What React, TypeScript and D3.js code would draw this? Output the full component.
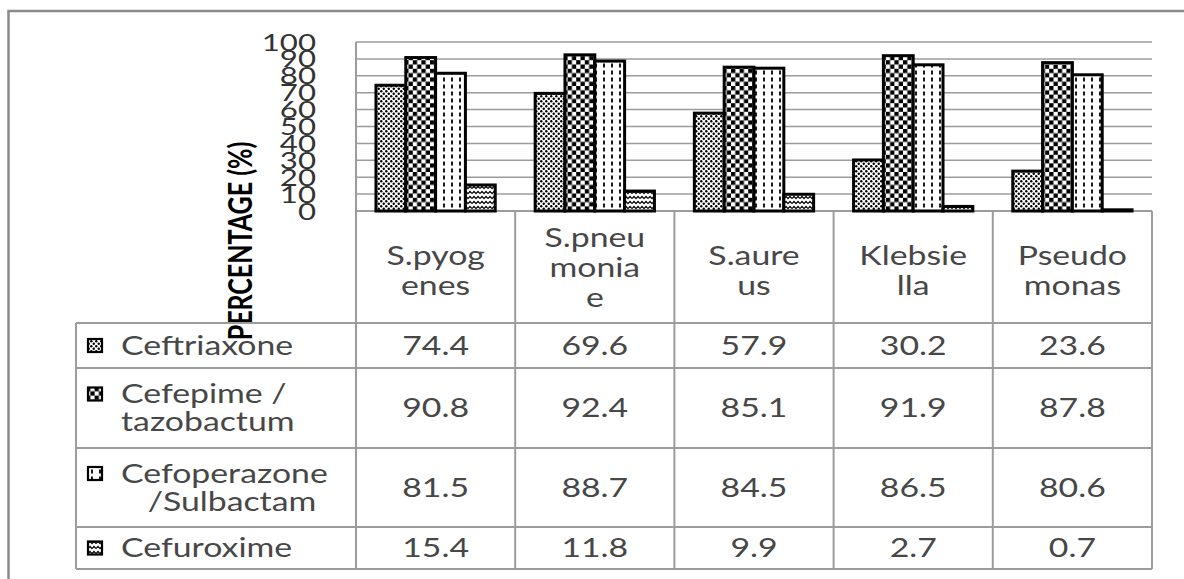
import React from "react";
import * as d3 from "d3";

// Organisms (categories) and how their names wrap in the table header
const categories = ["S.pyogenes", "S.pneumoniae", "S.aureus", "Klebsiella", "Pseudomonas"];
const categoryLines = [["S.pyog", "enes"], ["S.pneu", "monia", "e"], ["S.aure", "us"], ["Klebsie", "lla"], ["Pseudo", "monas"]];

// Antibiotics (series) and their wrapped legend labels
const seriesNames = ["Ceftriaxone", "Cefepime / tazobactum", "Cefoperazone /Sulbactam", "Cefuroxime"];
const seriesLines = [["Ceftriaxone"], ["Cefepime /", "tazobactum"], ["Cefoperazone", "/Sulbactam"], ["Cefuroxime"]];

// Sensitivity percentages per organism
const ceftriaxone = [74.4, 69.6, 57.9, 30.2, 23.6];
const cefepimeTazobactam = [90.8, 92.4, 85.1, 91.9, 87.8];
const cefoperazoneSulbactam = [81.5, 88.7, 84.5, 86.5, 80.6];
const cefuroxime = [15.4, 11.8, 9.9, 2.7, 0.7];
const seriesValues = [ceftriaxone, cefepimeTazobactam, cefoperazoneSulbactam, cefuroxime];

const yTicks = [0, 10, 20, 30, 40, 50, 60, 70, 80, 90, 100];
const yTitle = "PERCENTAGE (%)";

const W = 1184;
const H = 579;
const FONT = "Lato, 'Open Sans', sans-serif";
const SX = 1.3; // horizontal text stretch
const GRID = "#9c9c9c";
const TEXT = "#474747";

const plotLeft = 356;
const plotRight = 1152;
const plotTop = 42;
const plotBottom = 211;
const tableLeft = 76;
const rowEdges = [211, 323, 368, 448, 527, 569];
const labelStart = 121;

const patternIds = ["pDots", "pCheck", "pDash", "pWave"];

function SText(props: {
  x: number; y: number; text: string; size: number; anchor?: string; weight?: number; fill?: string;
}) {
  const { x, y, text, size, anchor = "middle", weight = 400, fill = TEXT } = props;
  return (
    <text
      transform={`translate(${x},${y}) scale(${SX},1)`}
      textAnchor={anchor as any}
      fontFamily={FONT}
      fontSize={size}
      fontWeight={weight}
      fill={fill}
    >
      {text}
    </text>
  );
}

export default function App() {
  const x0 = d3.scaleBand<string>().domain(categories).range([plotLeft, plotRight]).paddingInner(0).paddingOuter(0);
  const x1 = d3
    .scaleBand<string>()
    .domain(seriesNames)
    .range([0, x0.bandwidth()])
    .paddingInner(0)
    .paddingOuter(0.67);
  const y = d3.scaleLinear().domain([0, 100]).range([plotBottom, plotTop]);

  const tableFont = 26;
  const colCenter = (c: string) => (x0(c) as number) + x0.bandwidth() / 2;

  return (
    <svg
      width={W}
      height={H}
      viewBox={`0 0 ${W} ${H}`}
      style={{ position: "absolute", left: 0, top: 0, background: "#fff" }}
    >
      <defs>
        <pattern id="pDots" width="5" height="5" patternUnits="userSpaceOnUse">
          <rect width="5" height="5" fill="#fff" />
          <circle cx="1.25" cy="1.25" r="1.2" fill="#000" />
          <circle cx="3.75" cy="3.75" r="1.2" fill="#000" />
        </pattern>
        <pattern id="pCheck" width="8.6" height="8.6" patternUnits="userSpaceOnUse">
          <rect width="8.6" height="8.6" fill="#fff" />
          <rect x="0" y="0" width="4.3" height="4.3" fill="#000" />
          <rect x="4.3" y="4.3" width="4.3" height="4.3" fill="#000" />
        </pattern>
        <pattern id="pDash" width="8" height="7" patternUnits="userSpaceOnUse">
          <rect width="8" height="7" fill="#fff" />
          <line x1="4" y1="0.5" x2="4" y2="4.5" stroke="#000" strokeWidth="1.8" />
        </pattern>
        <pattern id="pWave" width="8" height="5" patternUnits="userSpaceOnUse">
          <rect width="8" height="5" fill="#fff" />
          <path d="M0,3.6 L2,1.4 L4,3.6 L6,1.4 L8,3.6" stroke="#000" strokeWidth="1.3" fill="none" />
        </pattern>
      </defs>

      {/* outer frame */}
      <path d={`M8.5,${H} V11 H${W}`} fill="none" stroke="#8a8a8a" strokeWidth={2.5} />

      {/* horizontal gridlines */}
      {yTicks
        .filter((t) => t > 0)
        .map((t) => (
          <line key={t} x1={plotLeft} x2={plotRight} y1={y(t)} y2={y(t)} stroke={GRID} strokeWidth={1.5} />
        ))}

      {/* y tick labels */}
      {yTicks.map((t) => (
        <SText key={t} x={316} y={y(t) + 8.5} text={String(t)} size={24} anchor="end" fill="#333" />
      ))}

      {/* y axis title */}
      <text
        transform={`translate(252,241) scale(${SX},1) rotate(-90)`}
        textAnchor="middle"
        fontFamily={FONT}
        fontSize={25}
        fontWeight={700}
        fill="#000"
      >
        {yTitle}
      </text>

      {/* table grid */}
      <g stroke={GRID} strokeWidth={2}>
        <line x1={plotLeft} x2={plotRight} y1={rowEdges[0]} y2={rowEdges[0]} />
        {rowEdges.slice(1).map((r) => (
          <line key={r} x1={tableLeft} x2={plotRight} y1={r} y2={r} />
        ))}
        <line x1={tableLeft} x2={tableLeft} y1={rowEdges[1]} y2={rowEdges[5]} />
        <line x1={plotLeft} x2={plotLeft} y1={plotTop} y2={rowEdges[5]} />
        {categories.map((c) => {
          const xr = (x0(c) as number) + x0.bandwidth();
          return <line key={c} x1={xr} x2={xr} y1={rowEdges[0]} y2={rowEdges[5]} />;
        })}
      </g>

      {/* bars */}
      {categories.map((c, ci) => (
        <g key={c}>
          {seriesNames.map((s, si) => {
            const v = seriesValues[si][ci];
            const bx = (x0(c) as number) + (x1(s) as number);
            return (
              <rect
                key={s}
                x={bx}
                y={y(v)}
                width={x1.bandwidth()}
                height={y(0) - y(v)}
                fill={`url(#${patternIds[si]})`}
                stroke="#000"
                strokeWidth={3}
              />
            );
          })}
        </g>
      ))}

      {/* header: organism names */}
      {categories.map((c, ci) => {
        const lines = categoryLines[ci];
        const mid = (rowEdges[0] + rowEdges[1]) / 2;
        const lh = 30;
        const shift = lines.length === 2 ? 13 : 10;
        return (
          <g key={c}>
            {lines.map((ln, li) => (
              <SText
                key={li}
                x={colCenter(c)}
                y={mid + shift + (li - (lines.length - 1) / 2) * lh}
                text={ln}
                size={tableFont}
              />
            ))}
          </g>
        );
      })}

      {/* body rows: legend key, label, values */}
      {seriesNames.map((s, si) => {
        const top = rowEdges[si + 1];
        const bottom = rowEdges[si + 2];
        const mid = (top + bottom) / 2;
        const lines = seriesLines[si];
        const lh = 28;
        const firstY = mid - ((lines.length - 1) / 2) * lh;
        return (
          <g key={s}>
            <rect
              x={88}
              y={firstY - 6.5}
              width={14}
              height={13}
              fill={`url(#${patternIds[si]})`}
              stroke="#000"
              strokeWidth={2.2}
            />
            {lines.map((ln, li) =>
              si === 2 && li === 1 ? (
                <SText key={li} x={232} y={firstY + 9 + li * lh} text={ln} size={tableFont} />
              ) : (
                <SText key={li} x={labelStart} y={firstY + 9 + li * lh} text={ln} size={tableFont} anchor="start" />
              )
            )}
            {categories.map((c, ci) => (
              <SText key={c} x={colCenter(c)} y={mid + 9} text={String(seriesValues[si][ci])} size={tableFont} />
            ))}
          </g>
        );
      })}
    </svg>
  );
}
